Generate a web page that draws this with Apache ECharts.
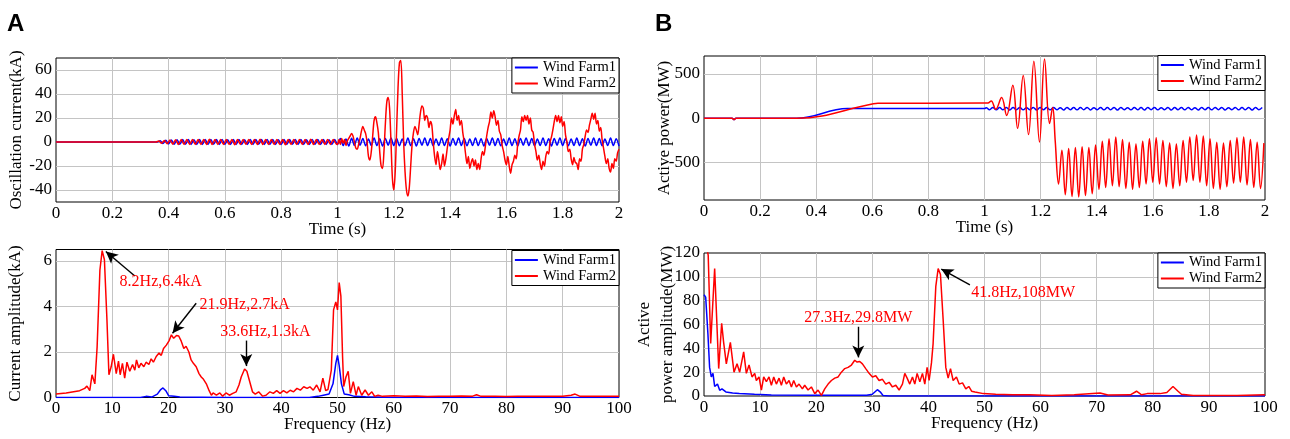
<!DOCTYPE html>
<html><head><meta charset="utf-8">
<script src="https://cdn.jsdelivr.net/npm/echarts@6.0.0/dist/echarts.min.js"></script>
<style>html,body{margin:0;padding:0;background:#fff}#c{width:1290px;height:439px}</style>
</head><body><div id="c"></div><script>
// ---------- DATA ----------
const seriesNames = ['Wind Farm1', 'Wind Farm2'];
// tick labels
const xTicksTime = [0, 0.2, 0.4, 0.6, 0.8, 1, 1.2, 1.4, 1.6, 1.8, 2];
const xTicksFreq = [0, 10, 20, 30, 40, 50, 60, 70, 80, 90, 100];
const yTicksA1 = [-40, -20, 0, 20, 40, 60];
const yTicksA2 = [0, 2, 4, 6];
const yTicksB1 = [-500, 0, 500];
const yTicksB2 = [0, 20, 40, 60, 80, 100, 120];

// (A) oscillation current, kA
const blueA_flat = [[0, 0], [0.36, 0]];
const blueA_osc1_t0 = 0.37, blueA_osc1_dt = 0.01;
const blueA_osc1 = [1.0,-1.2,1.4,-1.6,1.7,-1.8,1.8,-1.9, 2.0,-1.9,2.0,-2.0,1.9,-2.0,2.1,-2.0,
  2.0,-2.1,2.0,-1.9,2.0,-2.0,2.1,-2.0, 1.9,-2.0,2.0,-2.1,2.0,-2.0,1.9,-2.0,
  2.1,-2.0,2.0,-1.9,2.0,-2.0,2.1,-2.0, 2.0,-2.0,1.9,-2.1,2.0,-2.0,2.0,-1.9,
  2.1,-2.0,2.0,-2.0,1.9,-2.0,2.1,-2.0, 2.0,-2.1,2.0,-2.0,1.9,-2.0,2.1,-2.0];
const blueA_osc2_t0 = 1.01, blueA_osc2_dt = 0.01;
const blueA_osc2 = [3.0,-3.0,2.6,-3.4,3.2,-2.8,3.4,-2.6,3.0,-3.2, 2.6,-3.0,3.4,-3.0,2.8,-3.4,3.0,-2.6,3.4,-3.0,
  3.0,-3.2,2.6,-3.0,3.4,-3.0,2.8,-3.4,3.0,-2.6, 3.4,-3.0,3.0,-3.2,2.6,-3.0,3.4,-3.0,2.8,-3.4,
  3.0,-2.6,3.4,-3.0,3.0,-3.2,2.6,-3.0,3.4,-3.0, 2.8,-3.4,3.0,-2.6,3.4,-3.0,3.0,-3.2,2.6,-3.0,
  3.4,-3.0,2.8,-3.4,3.0,-2.6,3.4,-3.0,3.0,-3.2, 2.6,-3.0,3.4,-3.0,2.8,-3.4,3.0,-2.6,3.4,-3.0,
  3.0,-3.2,2.6,-3.0,3.4,-3.0,2.8,-3.4,3.0,-2.6, 3.4,-3.0,3.0,-3.2,2.6,-3.0,3.4,-3.0,2.8,-3.4];
const redA_flat = [[0, 0], [0.355, 0]];
const redA_osc1_t0 = 0.365, redA_osc1_dt = 0.01;
const redA_osc1 = [0.8,-1.0,1.3,-1.5,1.7,-1.8,1.9,-2.0, 2.0,-2.1,2.0,-2.0,2.1,-2.0,2.0,-2.1,
  2.0,-2.0,2.2,-2.0,2.0,-2.1,2.0,-2.0, 2.1,-2.0,2.0,-2.2,2.0,-2.0,2.1,-2.0,
  2.0,-2.1,2.0,-2.0,2.2,-2.0,2.0,-2.1, 2.0,-2.0,2.1,-2.0,2.0,-2.2,2.0,-2.0,
  2.1,-2.0,2.0,-2.1,2.0,-2.0,2.2,-2.0, 2.0,-2.1,2.0,-2.0,2.1,-2.0,2.0,-1.5];
const redA_burst_t0 = 1.0, redA_burst_dt = 0.005;
const redA_burst = [-2,2,-2,3,-1,2,-3,1,3,5, 7,5,0,-5,-6,-2,3,9,13,10, 7,0,-12,-15,-8,5,18,21,16,8,
  -8,-20,-22,-8,15,33,37,28,0,-30, -40,-25,10,45,66,68,40,0,-25,-40, -45,-38,-20,-2,8,13,10,6,15,25,
  30,28,18,22,20,12,17,14,0,-12, -19,-8,-15,-23,-18,-10,-20,-14,-5,3, 10,20,15,22,27,18,22,14,18,8,
  0,-10,-18,-12,-22,-17,-14,-20,-15,-23, -18,-23,-14,-8,-11,-4,5,12,17,25, 20,26,21,14,18,9,6,-3,-8,-15,
  -19,-12,-20,-26,-19,-16,-11,-14,-2,5, 10,21,17,22,18,22,15,20,10,8, -2,-8,-15,-11,-18,-23,-16,-20,-12,-8,
  -10,0,4,10,17,22,17,22,16,21, 13,17,6,0,-8,-6,-14,-19,-13,-17, -18,-23,-14,-16,-6,-2,5,10,8,14,
  19,24,19,24,15,18,9,12,2,-5, -12,-18,-14,-22,-25,-18,-22,-14,-16,-9, -6];

// (A) FFT, kA
const redA_fft = [[0,0.15],[1.8,0.2],[4.2,0.3],[5.1,0.4],[5.5,0.5],[6.0,0.3],[6.4,1.0],[6.9,0.6],[7.3,2.2],[7.8,5.6],[8.2,6.45],[8.6,6.05],[9.05,3.4],[9.4,1.0],[9.8,1.35],[10.2,1.9],[10.7,1.05],[11.1,1.6],[11.4,1.0],[11.8,1.5],[12.2,0.85],[12.6,1.55],[13.1,1.15],[13.6,1.45],[14.0,1.2],[14.3,1.65],[14.7,1.3],[15.1,1.5],[15.6,1.35],[16.0,1.55],[16.5,1.45],[16.9,1.7],[17.3,1.55],[17.8,1.8],[18.3,1.95],[18.7,1.85],[19.1,2.15],[19.6,2.3],[20.1,2.5],[20.5,2.75],[20.9,2.6],[21.4,2.72],[21.8,2.7],[22.2,2.5],[22.7,2.15],[23.1,2.25],[23.6,2.0],[24.0,1.65],[24.4,1.5],[24.9,1.35],[25.4,1.05],[25.8,0.9],[26.2,0.8],[26.7,0.6],[27.2,0.3],[27.6,0.1],[27.9,0.2],[28.5,0.1],[29.1,0.2],[29.6,0.06],[30.2,0.2],[30.8,0.1],[31.4,0.18],[32.0,0.25],[32.5,0.55],[32.9,0.9],[33.5,1.25],[33.9,1.15],[34.4,0.7],[34.9,0.25],[35.4,0.15],[36.0,0.25],[36.7,0.06],[37.3,0.1],[38.0,0.25],[38.6,0.18],[39.2,0.3],[39.8,0.18],[40.4,0.3],[41.0,0.2],[41.6,0.32],[42.2,0.25],[42.8,0.4],[43.4,0.32],[44.0,0.47],[44.6,0.4],[45.1,0.47],[45.7,0.32],[46.3,0.55],[46.9,0.25],[47.4,0.85],[47.9,0.3],[48.3,0.35],[48.9,1.2],[49.3,3.85],[49.7,4.2],[50.0,3.85],[50.3,5.05],[50.6,4.45],[50.9,1.8],[51.1,0.48],[51.5,0.9],[51.9,1.15],[52.3,0.18],[52.8,0.7],[53.3,0.1],[53.7,0.48],[54.3,0.1],[54.9,0.33],[55.5,0.1],[56.1,0.25],[56.6,0.05],[57.2,0.1],[58,0.05],[60,0.08],[62,0.05],[64,0.07],[66,0.04],[68,0.06],[70,0.05],[72,0.07],[74,0.06],[74.7,0.12],[75.5,0.05],[78,0.06],[80,0.04],[82,0.06],[85,0.05],[88,0.06],[90,0.05],[91.5,0.1],[92.2,0.15],[93,0.06],[95,0.05],[98,0.06],[100,0.05]];
const blueA_fft = [[0,0],[15,0],[16,0.05],[17,0.02],[18,0.15],[18.6,0.35],[19.0,0.42],[19.5,0.3],[20,0.08],[21,0.05],[22,0.02],[30,0],[45,0],[46.5,0.05],[47.5,0.1],[48.5,0.15],[49.2,0.6],[49.7,1.5],[50.0,1.85],[50.3,1.4],[50.7,0.6],[51.2,0.15],[52,0.12],[53,0.05],[55,0.03],[60,0],[100,0]];

// (B) active power, MW
const redB_pre = [[0,0],[0.100,0],[0.107,-15],[0.114,0],[0.330,0],[0.600,160],[0.620,168],[1.000,170],[1.012,170]];
const redB_burst = [[1.024,195],[1.040,100],[1.061,232],[1.079,32],[1.101,370],[1.118,-114],[1.138,480],[1.157,-184],[1.176,640],[1.196,-268],[1.214,665],[1.232,-60],[1.243,120],[1.252,-250],[1.264,-740]];
const redB_steady_t0 = 1.276, redB_steady_dt = 0.012;
const redB_steady = [-360,-860,-340,-880,-330,-885,-320,-870,-330,-850,-300,-800,-260,-780,-230,-760,-210,-770,-240,-790,
  -270,-800,-290,-780,-260,-740,-230,-720,-220,-740,-250,-770,-280,-790,-290,-760,-250,-720,-210,-700,
  -190,-720,-200,-760,-230,-790,-270,-800,-280,-770,-250,-730,-220,-720,-210,-750,-240,-780,-270,-790,-280];
const blueB_pre = [[0,0],[0.100,0],[0.107,-15],[0.114,0],[0.330,0],[0.512,108],[1.000,108]];
const blueB_rip_t0 = 1.006, blueB_rip_dt = 0.012;
const blueB_rip = [119,96,121,94,120,95,122,93,120,96, 121,94,119,95,122,93,121,96,120,94,
  121,95,119,93,122,96,120,94,121,95, 122,93,119,96,121,94,120,95,122,93,
  121,96,119,94,121,95,120,93,122,96, 121,94,119,95,122,93,120,96,121,94,
  122,95,119,93,121,96,120,94,122,95, 121,93,119,96,122,94,120,95,121,93, 122,96,120];

// (B) FFT, MW
const redB_fft = [[0,150],[0.5,125],[0.75,118],[1.19,44],[1.9,107],[2.62,23],[3.15,61],[3.5,45],[3.98,27],[4.7,45],[5.35,20],[5.89,27],[6.36,20],[7.07,37],[7.55,19],[8.03,26],[8.56,16],[9.04,19],[9.33,13],[9.81,16],[10.23,5],[10.64,16],[11.12,12],[11.59,16],[12.01,9],[12.43,16],[12.9,10],[13.38,15],[13.79,9],[14.21,16],[14.68,10],[15.16,13],[15.58,7.6],[15.99,13],[16.47,7.6],[16.94,10],[17.54,6],[17.95,9],[18.55,5],[19.14,7.6],[19.74,2],[20.33,5],[20.93,0.5],[21.52,6],[22.12,10],[22.71,13],[23.31,15],[23.9,16],[24.49,20],[25.09,23],[25.68,24],[26.28,26],[26.87,30],[27.29,28.5],[27.76,29],[28.24,27],[28.83,23],[29.43,19],[30.02,16],[30.62,17],[31.21,13],[31.81,14],[32.4,10],[33.0,11.5],[33.59,7.6],[34.19,9],[34.78,5],[35.37,10],[35.79,19],[36.21,15],[36.68,10],[37.16,16],[37.57,10],[37.99,19],[38.47,12],[38.94,19],[39.36,10],[39.77,24],[40.13,13],[40.55,28],[40.84,44],[41.32,92],[41.74,107],[42.15,102],[42.63,64],[43.1,24],[43.52,15],[43.94,23],[44.41,13],[45.0,16],[45.48,10],[46.08,11],[46.67,6],[47.2,8],[47.7,4],[48.3,3.4],[49.8,2],[52,1.5],[55,1],[58,1],[62,0.5],[66,1],[70.6,2.5],[72,0.8],[76,1],[77.1,4],[78,1],[79,2],[81.3,2],[82.5,3],[83.6,8],[84.5,4],[85.1,1.5],[87.2,0.5],[90,0.5],[95,0.5],[100,1]];
const blueB_fft = [[0,85],[0.3,83],[0.7,52],[1.0,24],[1.3,16],[1.6,19],[1.9,8],[2.4,10],[2.8,4.8],[3.2,6],[3.9,3.4],[5.1,2.5],[6.3,2],[9,1.4],[12,0.8],[20,0.6],[29,0.6],[30,1.5],[30.9,5.3],[31.5,3],[31.9,0.5],[33,0],[100,0]];

// annotations (data coordinates)
const annotTextA = [['8.2Hz,6.4kA', 18.6, 5.09], ['21.9Hz,2.7kA', 33.5, 4.07], ['33.6Hz,1.3kA', 37.2, 2.89]];
const annotArrowA = [[[14.0, 5.34], [8.85, 6.41]], [[24.9, 4.14], [20.7, 2.82]], [[33.8, 2.5], [33.8, 1.38]]];
const annotTextB = [['27.3Hz,29.8MW', 27.5, 65.9], ['41.8Hz,108MW', 56.9, 86.3]];
const annotArrowB = [[[27.5, 58.1], [27.5, 32.4]], [[47.4, 93.3], [42.3, 106.5]]];

// ---------- BUILD ----------
const FONT = 'Liberation Serif';
const GRIDC = '#c4c4c4';
const BLUE = '#0000ff', RED = '#ff0000';
function seg(t0, dt, vals) { return vals.map((v, i) => [+(t0 + i * dt).toFixed(4), v]); }
const redA = redA_flat.concat(seg(redA_osc1_t0, redA_osc1_dt, redA_osc1), seg(redA_burst_t0, redA_burst_dt, redA_burst));
const blueA = blueA_flat.concat(seg(blueA_osc1_t0, blueA_osc1_dt, blueA_osc1), seg(blueA_osc2_t0, blueA_osc2_dt, blueA_osc2));
const redB = redB_pre.concat(redB_burst, seg(redB_steady_t0, redB_steady_dt, redB_steady));
const blueB = blueB_pre.concat(seg(blueB_rip_t0, blueB_rip_dt, blueB_rip));

const has = (list, v) => list.some(t => Math.abs(t - v) < 1e-7);
function lineColors(min, max, step, ticks) {
  const n = Math.round((max - min) / step) + 1, c = [];
  for (let i = 0; i < n; i++) { const v = min + i * step; c.push(has(ticks, v) && v > min + 1e-9 && v < max - 1e-9 ? GRIDC : 'rgba(0,0,0,0)'); }
  return c;
}
function axis(gridIndex, min, max, step, ticks, name, nameGap, isY, extra) {
  return Object.assign({
    type: 'value', gridIndex, min, max, interval: step, name, nameLocation: 'middle', nameGap, nameMoveOverlap: false,
    nameTextStyle: { fontFamily: FONT, fontSize: 17, color: '#000' },
    axisLine: { show: false }, axisTick: { show: false },
    axisLabel: { fontFamily: FONT, fontSize: 17, color: '#000', margin: isY ? 4 : 3,
      formatter: v => has(ticks, v) ? String(+v.toFixed(4)) : '' },
    splitLine: { show: true, lineStyle: { color: lineColors(min, max, step, ticks), width: 1 } }
  }, extra || {});
}
function legendAt(right, top) {
  return { orient: 'vertical', right, top, data: seriesNames, icon: 'rect', itemWidth: 23, itemHeight: 2, itemGap: 1,
    padding: [2, 3, 2, 3], borderColor: '#000', borderWidth: 1, backgroundColor: '#fff', selectedMode: false,
    textStyle: { fontFamily: FONT, fontSize: 14.5, color: '#000' } };
}
function lineSeries(name, color, xi, data, smooth, extra) {
  return Object.assign({ type: 'line', name, xAxisIndex: xi, yAxisIndex: xi, data, color, showSymbol: false, symbol: 'none',
    smooth: smooth, lineStyle: { color, width: 1.5 }, emphasis: { disabled: true }, silent: true, z: 2 }, extra || {});
}
function marks(texts, arrows) {
  return {
    markLine: { silent: true, symbol: ['none', 'arrow'], symbolSize: [9, 12], animation: false,
      lineStyle: { color: '#000', width: 1.4, type: 'solid' }, itemStyle: { color: '#000' }, label: { show: false },
      emphasis: { disabled: true },
      data: arrows.map(a => [{ coord: a[0] }, { coord: a[1] }]) },
    markPoint: { silent: true, symbol: 'circle', symbolSize: 0, animation: false,
      label: { show: true, position: 'inside', color: RED, fontFamily: FONT, fontSize: 16, formatter: p => p.name },
      data: texts.map(t => ({ name: t[0], coord: [t[1], t[2]] })) }
  };
}
const gridBase = { show: true, borderColor: '#000', borderWidth: 1, backgroundColor: 'transparent', containLabel: false, outerBoundsMode: 'none' };
const titleStyle = { fontFamily: 'Liberation Sans', fontWeight: 'bold', fontSize: 24, color: '#000' };
const option = {
  animation: false,
  backgroundColor: '#fff',
  textStyle: { fontFamily: FONT },
  title: [
    { text: 'A', left: 7, top: 12, padding: 0, textStyle: titleStyle },
    { text: 'B', left: 655, top: 12, padding: 0, textStyle: titleStyle }
  ],
  grid: [
    Object.assign({ left: 56, top: 58, width: 563, height: 144 }, gridBase),
    Object.assign({ left: 56, top: 249.5, width: 563, height: 148 }, gridBase),
    Object.assign({ left: 704, top: 56, width: 561, height: 144 }, gridBase),
    Object.assign({ left: 704, top: 253, width: 561, height: 143 }, gridBase)
  ],
  xAxis: [
    axis(0, 0, 2, 0.2, xTicksTime, 'Time (s)', 19, false),
    axis(1, 0, 100, 10, xTicksFreq, 'Frequency (Hz)', 19, false),
    axis(2, 0, 2, 0.2, xTicksTime, 'Time (s)', 19, false),
    axis(3, 0, 100, 10, xTicksFreq, 'Frequency (Hz)', 19, false)
  ],
  yAxis: [
    axis(0, -50, 70, 10, yTicksA1, 'Oscillation current(kA)', 31, true),
    axis(1, 0, 6.5, 0.5, yTicksA2, 'Current amplitude(kA)', 32, true),
    axis(2, -920, 700, 20, yTicksB1, 'Active power(MW)', 31, true),
    axis(3, 0, 120, 20, yTicksB2, 'Active\npower amplitude(MW)', 25, true,
      { nameTextStyle: { fontFamily: FONT, fontSize: 17, color: '#000', lineHeight: 23 } })
  ],
  legend: [legendAt(671, 58), legendAt(671, 250.5), legendAt(25, 55.5), legendAt(25, 253)],
  series: [
    lineSeries('Wind Farm1', BLUE, 0, blueA, 0.3),
    lineSeries('Wind Farm2', RED, 0, redA, 0.3),
    lineSeries('Wind Farm1', BLUE, 1, blueA_fft, false),
    lineSeries('Wind Farm2', RED, 1, redA_fft, false, marks(annotTextA, annotArrowA)),
    lineSeries('Wind Farm1', BLUE, 2, blueB, 0.4),
    lineSeries('Wind Farm2', RED, 2, redB, 0.4),
    lineSeries('Wind Farm1', BLUE, 3, blueB_fft, false),
    lineSeries('Wind Farm2', RED, 3, redB_fft, false, marks(annotTextB, annotArrowB))
  ]
};
const chart = echarts.init(document.getElementById('c'), null, { renderer: 'canvas' });
chart.setOption(option);
</script></body></html>
